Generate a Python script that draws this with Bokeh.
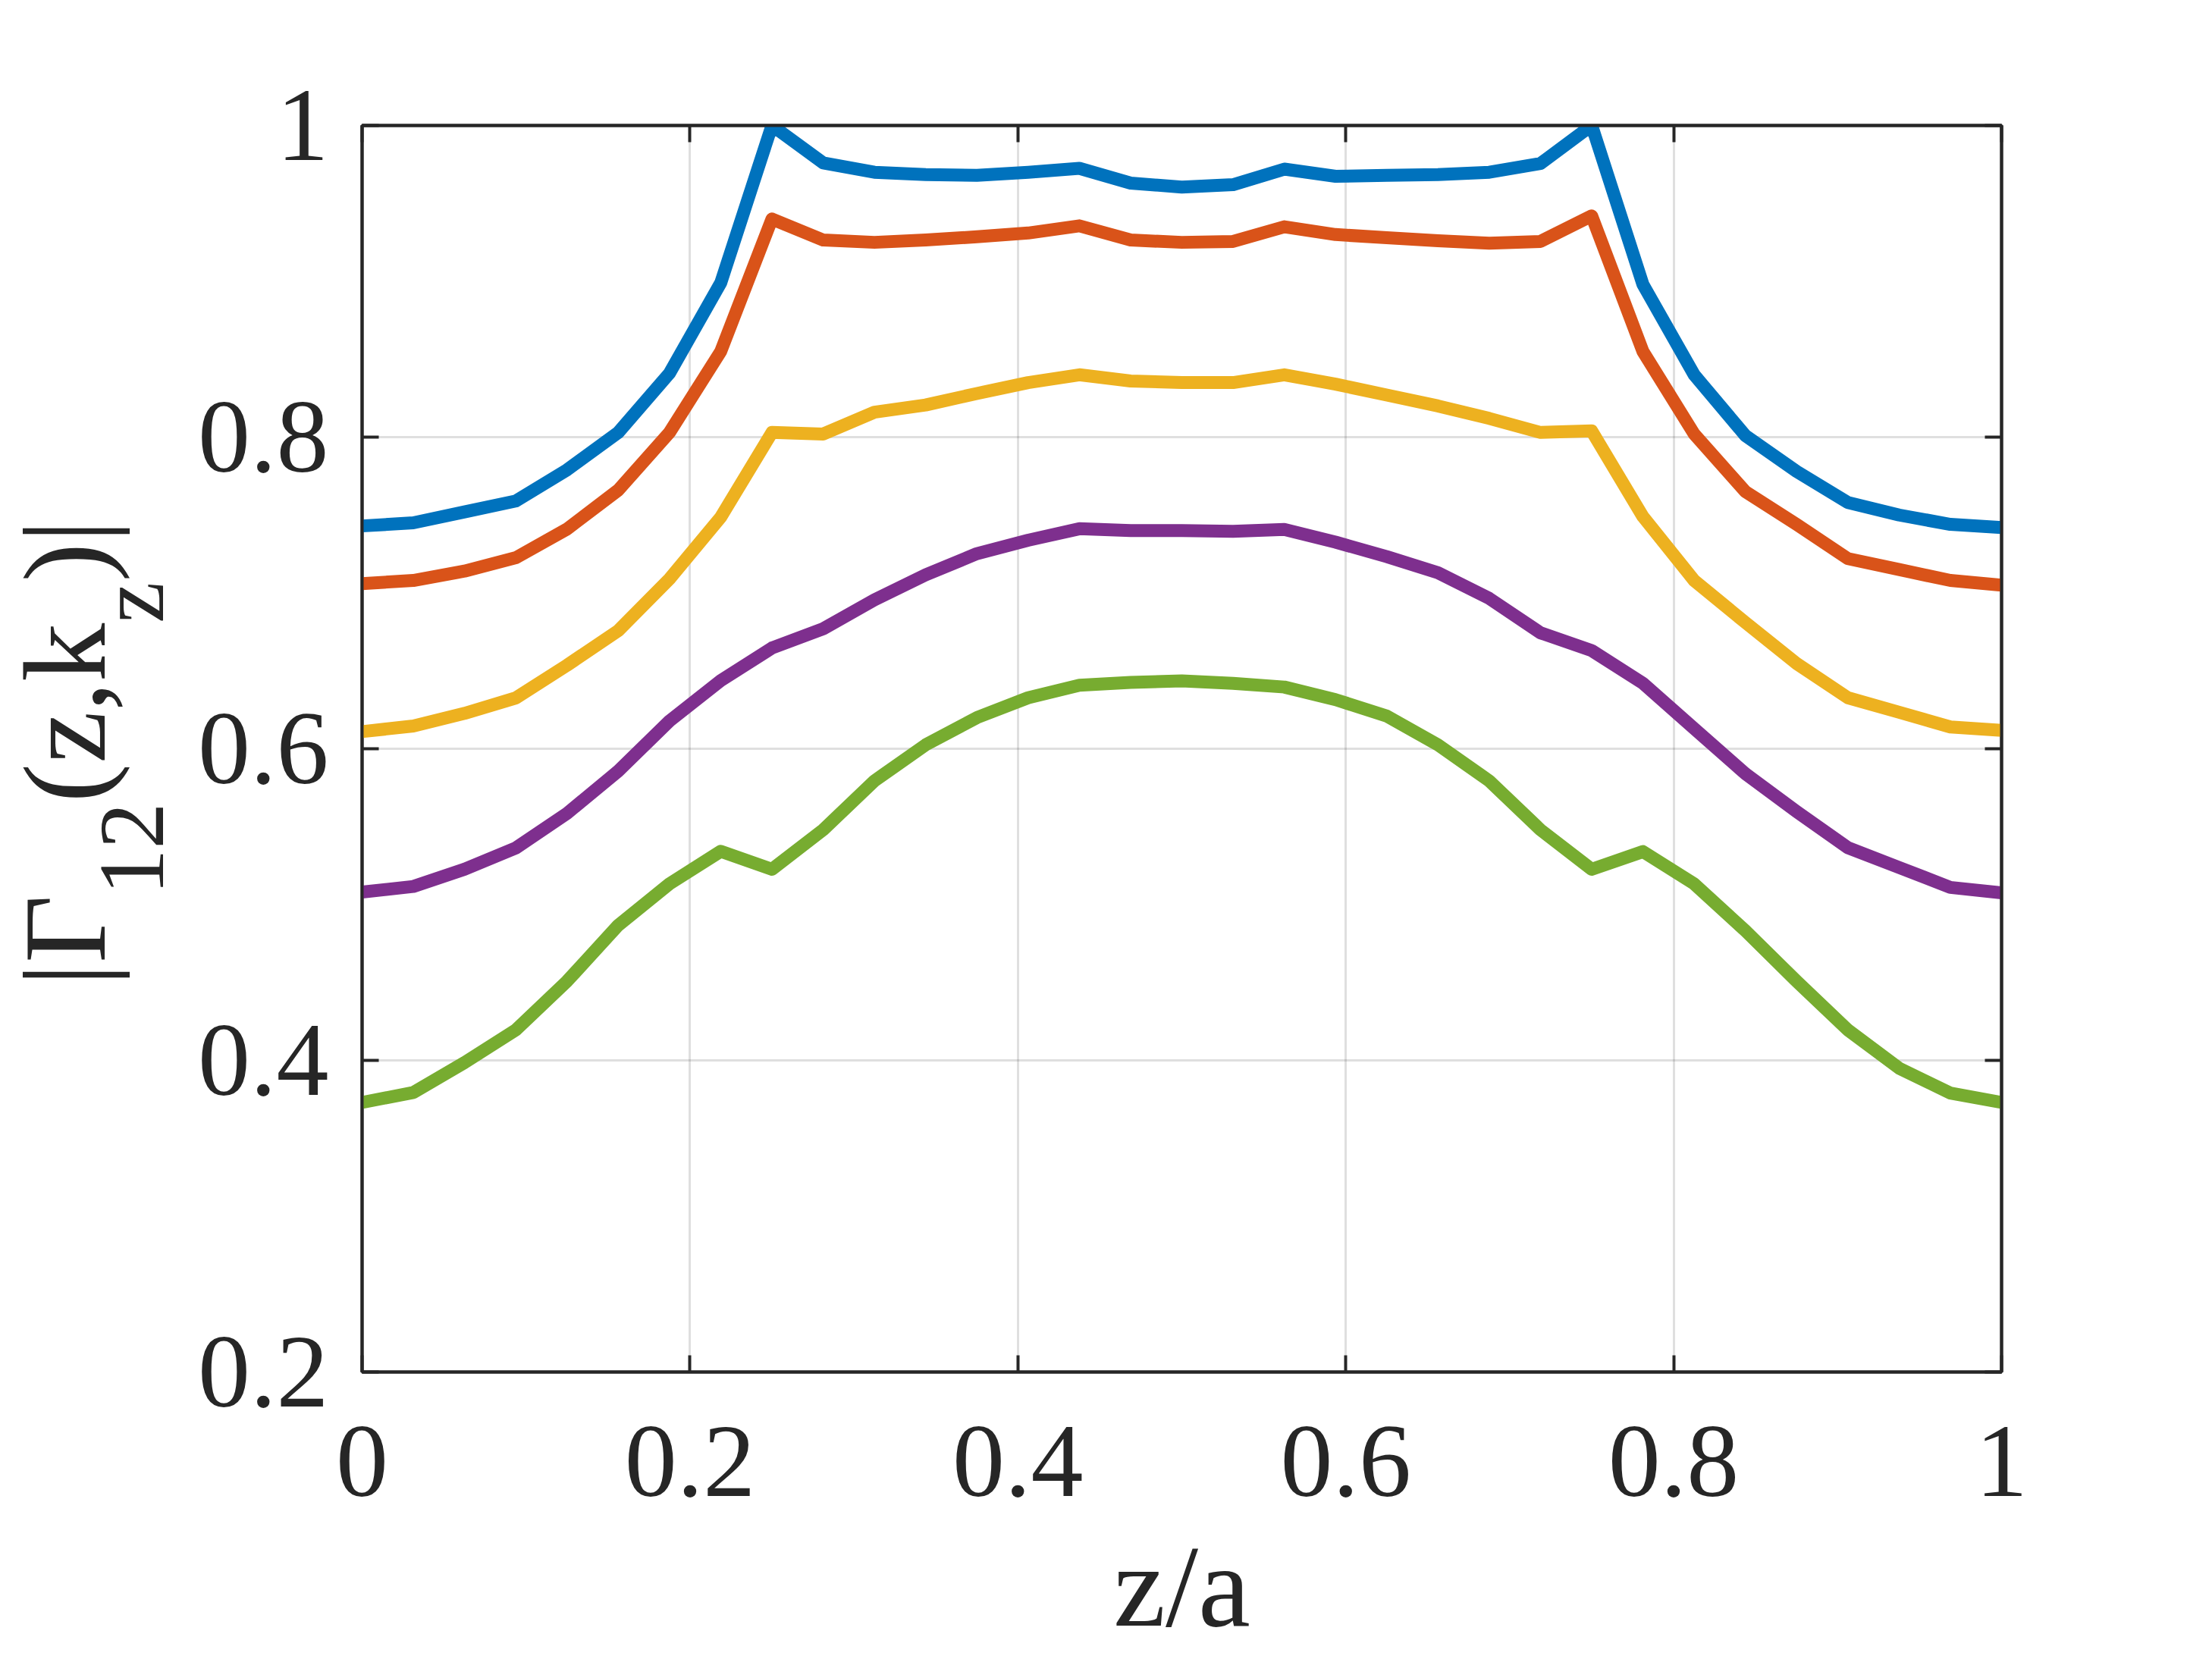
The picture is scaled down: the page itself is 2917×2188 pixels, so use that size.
import math
from bokeh.plotting import figure
from bokeh.models import Range1d, LinearAxis, FixedTicker, Div
from bokeh.layouts import row
from bokeh.embed import file_html
from bokeh.resources import INLINE

# ---------------- data ----------------
z = [i / 32 for i in range(33)]

gamma_a = [0.743, 0.745, 0.752, 0.759, 0.779, 0.803, 0.841, 0.899, 1.000, 0.976, 0.970,
           0.9685, 0.968, 0.970, 0.9725, 0.963, 0.9605, 0.962, 0.972, 0.9674, 0.968, 0.9685,
           0.970, 0.9756, 1.000, 0.898, 0.840, 0.801, 0.778, 0.758, 0.750, 0.744, 0.742]
gamma_b = [0.706, 0.708, 0.714, 0.7226, 0.741, 0.766, 0.803, 0.855, 0.940, 0.9265, 0.925,
           0.9265, 0.9286, 0.931, 0.9356, 0.9265, 0.925, 0.9256, 0.935, 0.930, 0.928, 0.926,
           0.9244, 0.9256, 0.942, 0.855, 0.802, 0.765, 0.744, 0.722, 0.715, 0.708, 0.705]
gamma_c = [0.611, 0.6146, 0.6227, 0.6326, 0.6536, 0.6758, 0.709, 0.7486, 0.803, 0.802, 0.816,
           0.8206, 0.828, 0.835, 0.840, 0.836, 0.835, 0.835, 0.840, 0.834, 0.827, 0.820,
           0.812, 0.803, 0.804, 0.749, 0.708, 0.681, 0.6547, 0.6327, 0.6234, 0.614, 0.6118]
gamma_d = [0.508, 0.5116, 0.5227, 0.5363, 0.5585, 0.5857, 0.6178, 0.6437, 0.6647, 0.677, 0.6956,
           0.7116, 0.7252, 0.7338, 0.7412, 0.740, 0.740, 0.7395, 0.7407, 0.7326, 0.7233, 0.713,
           0.6965, 0.6744, 0.663, 0.642, 0.613, 0.584, 0.5597, 0.5365, 0.5238, 0.511, 0.5075]
gamma_e = [0.373, 0.3794, 0.3986, 0.4195, 0.4508, 0.4867, 0.5133, 0.5342, 0.5226, 0.548, 0.5794,
           0.6025, 0.620, 0.6327, 0.6408, 0.6426, 0.6436, 0.642, 0.6396, 0.6315, 0.621, 0.6025,
           0.5794, 0.548, 0.5226, 0.534, 0.5133, 0.4832, 0.4508, 0.4195, 0.395, 0.379, 0.373]

series = [gamma_a, gamma_b, gamma_c, gamma_d, gamma_e]
colors = ["#0072BD", "#D95319", "#EDB120", "#7E2F8E", "#77AC30"]

x_ticks = [0, 0.2, 0.4, 0.6, 0.8, 1.0]
x_tick_labels = ["0", "0.2", "0.4", "0.6", "0.8", "1"]
y_ticks = [0.2, 0.4, 0.6, 0.8, 1.0]
y_tick_labels = ["0.2", "0.4", "0.6", "0.8", "1"]

# ---------------- layout ----------------
H = 2180
LW = 250                 # width of the strip holding the y label
PW = 2650                # width of the main plot
FRAME_LEFT, FRAME_TOP = 477, 165
FW, FH = 2162, 1650
XMIN, XMAX, YMIN, YMAX = 0.0, 1.0, 0.2, 1.0
FONT = "Liberation Serif"
TXT = "#262626"

BL = FRAME_LEFT - LW
p = figure(width=PW, height=H, output_backend="svg", toolbar_location=None,
           x_range=Range1d(XMIN, XMAX), y_range=Range1d(YMIN, YMAX),
           min_border_left=BL, min_border_right=PW - BL - FW,
           min_border_top=FRAME_TOP, min_border_bottom=H - FRAME_TOP - FH)
p.background_fill_color = "white"
p.border_fill_color = "white"
p.outline_line_color = TXT
p.outline_line_width = 4

for ys, c in zip(series, colors):
    p.line(z, ys, line_color=c, line_width=17, line_join="round", line_cap="butt")

def style_axis(ax, ticks, labels, show_labels=True):
    ax.ticker = FixedTicker(ticks=ticks)
    if show_labels:
        ax.major_label_overrides = {t: l for t, l in zip(ticks, labels)}
    else:
        ax.major_label_overrides = {t: "" for t in ticks}
    ax.axis_line_color = TXT
    ax.axis_line_width = 4
    ax.major_tick_line_color = TXT
    ax.major_tick_line_width = 4
    ax.major_tick_in = 22
    ax.major_tick_out = 0
    ax.minor_tick_line_color = None
    ax.major_label_text_font = FONT
    ax.major_label_text_font_size = "138px"
    ax.major_label_text_color = TXT

xa = p.xaxis[0]
ya = p.yaxis[0]
style_axis(xa, x_ticks, x_tick_labels)
style_axis(ya, y_ticks, y_tick_labels)
xa.major_label_standoff = 72
ya.major_label_standoff = 44
xa.axis_label = "z/a"
xa.axis_label_text_font = FONT
xa.axis_label_text_font_size = "155px"
xa.axis_label_text_font_style = "normal"
xa.axis_label_text_color = TXT
xa.axis_label_standoff = 30

top = LinearAxis()
right = LinearAxis()
style_axis(top, x_ticks, x_tick_labels, show_labels=False)
style_axis(right, y_ticks, y_tick_labels, show_labels=False)
top.major_label_text_font_size = "1px"
right.major_label_text_font_size = "1px"
top.major_label_standoff = 0
right.major_label_standoff = 0
p.add_layout(top, "above")
p.add_layout(right, "right")

p.xgrid.ticker = FixedTicker(ticks=x_ticks)
p.ygrid.ticker = FixedTicker(ticks=y_ticks)
for g in (p.xgrid, p.ygrid):
    g.grid_line_color = TXT
    g.grid_line_alpha = 0.15
    g.grid_line_width = 3

# ---------------- y-axis label |Γ12(z,kz)| (rotated HTML text) ----------------
F_MAIN, F_SUB, SUB_DROP = 155, 122, 77
BASELINE_X = 143.0
# with line-height == font-size, the baseline sits about 0.3375 em below the box middle
center_x = BASELINE_X - 0.3375 * F_MAIN
center_y = FRAME_TOP + FH / 2.0 + 3
sub = lambda s: (f'<span style="font-size:{F_SUB}px;position:relative;'
                 f'top:{SUB_DROP}px;">{s}</span>')
label_html = (
    f'<div style="position:relative;width:{LW}px;height:{H}px;overflow:visible;">'
    f'<div style="position:absolute;left:{center_x:.1f}px;top:{center_y:.1f}px;'
    f'white-space:nowrap;font-family:\'{FONT}\';font-size:{F_MAIN}px;'
    f'line-height:{F_MAIN}px;color:{TXT};'
    f'transform:translate(-50%,-50%) rotate(-90deg);">'
    f'|Γ{sub("12")}(z,k{sub("z")})|</div></div>'
)
lab = Div(text=label_html, width=LW, height=H, margin=(0, 0, 0, 0))

layout = row(lab, p, spacing=0)
open("out.html", "w").write(file_html(layout, INLINE))
